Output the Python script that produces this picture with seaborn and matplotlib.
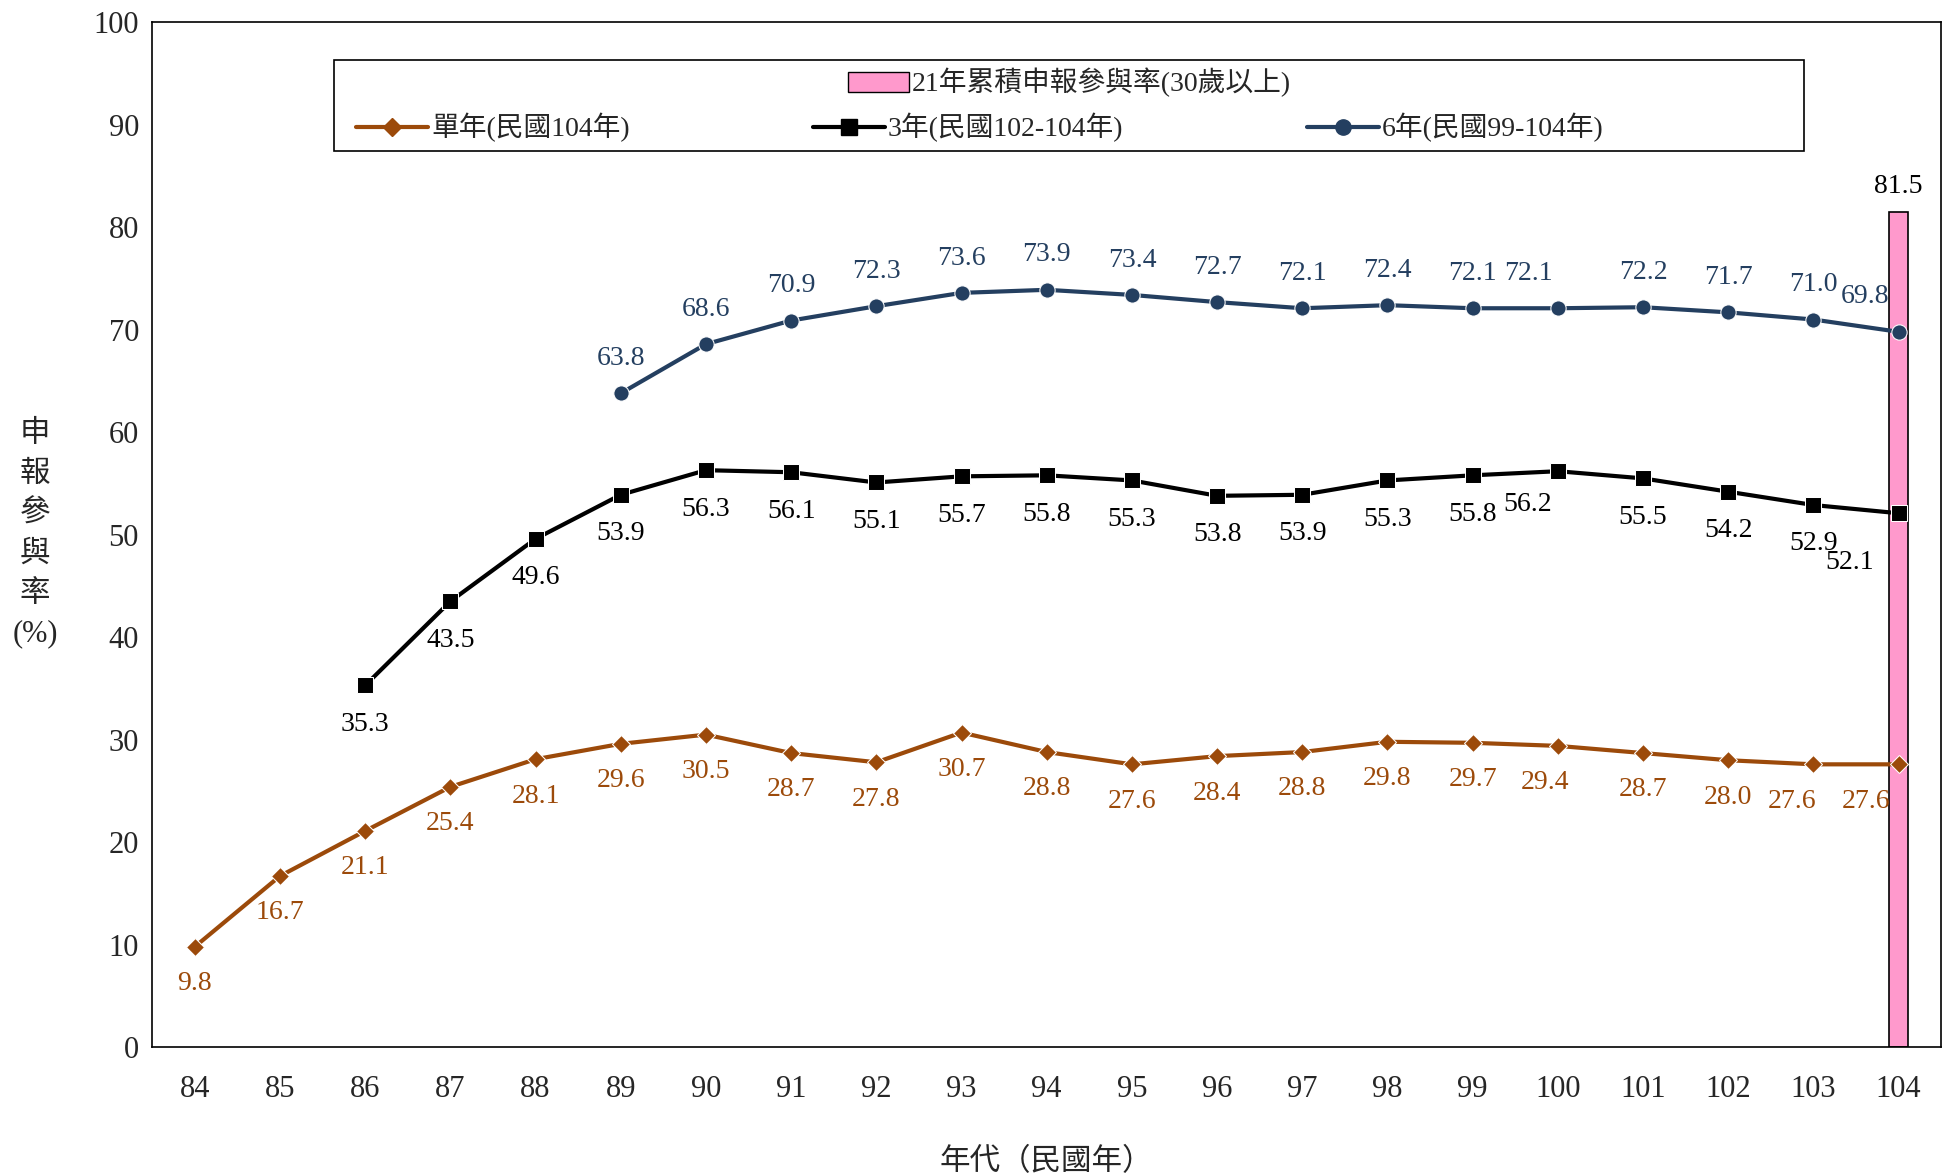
import matplotlib
matplotlib.use("Agg")
import matplotlib.pyplot as plt
import seaborn as sns
import pandas as pd
import numpy as np
from matplotlib.lines import Line2D
from matplotlib.patches import Patch, Rectangle

years = [str(y) for y in range(84, 105)]
single = [9.8,16.7,21.1,25.4,28.1,29.6,30.5,28.7,27.8,30.7,28.8,27.6,28.4,28.8,29.8,29.7,29.4,28.7,28.0,27.6,27.6]
three = [None,None,35.3,43.5,49.6,53.9,56.3,56.1,55.1,55.7,55.8,55.3,53.8,53.9,55.3,55.8,56.2,55.5,54.2,52.9,52.1]
six = [None,None,None,None,None,63.8,68.6,70.9,72.3,73.6,73.9,73.4,72.7,72.1,72.4,72.1,72.1,72.2,71.7,71.0,69.8]
cum_year = "104"
cum_value = 81.5

sns.set_theme(style="white")
plt.rcParams['font.family'] = ['Liberation Serif', 'Noto Sans CJK TC']

BROWN = "#9C4A0A"
BLACK = "#000000"
NAVY = "#243F60"
PINK = "#FF99CC"

fig = plt.figure(figsize=(19.51, 11.74), dpi=100)
ax = fig.add_axes([0.078, 0.108, 0.917, 0.873])
xs = np.arange(len(years))
cum_idx = years.index(cum_year)
ax.bar([cum_idx], [cum_value], width=0.22, color=PINK, edgecolor="black", linewidth=1.2, zorder=1)

df = pd.DataFrame({"x": xs, "single": single, "three": three, "six": six})
sns.lineplot(data=df, x="x", y="single", ax=ax, color=BROWN, marker="D", markersize=9, linewidth=3, zorder=3)
sns.lineplot(data=df.dropna(subset=["three"]), x="x", y="three", ax=ax, color=BLACK, marker="s", markersize=11, linewidth=3, zorder=3)
sns.lineplot(data=df.dropna(subset=["six"]), x="x", y="six", ax=ax, color=NAVY, marker="o", markersize=11, linewidth=3, zorder=3)

fs = 20
n = len(years)
for i, v in enumerate(single):
    dx = {n-1: -0.38, n-2: -0.25, 16: -0.15}.get(i, 0)
    ax.text(i+dx, v-3.6, f"{v:.1f}", ha="center", va="center", color=BROWN, fontsize=fs)
for i, v in enumerate(three):
    if v is None: continue
    dx, dy = 0, -3.8
    if i == n-1: dx, dy = -0.57, -4.8
    if i == 16: dx, dy = -0.35, -3.2
    ax.text(i+dx, v+dy, f"{v:.1f}", ha="center", va="center", color=BLACK, fontsize=fs)
for i, v in enumerate(six):
    if v is None: continue
    dx = {n-1: -0.4, 16: -0.35}.get(i, 0)
    ax.text(i+dx, v+3.4, f"{v:.1f}", ha="center", va="center", color=NAVY, fontsize=fs)
ax.text(cum_idx, cum_value+2.5, f"{cum_value:.1f}", ha="center", va="center", color=BLACK, fontsize=fs)

ax.set_xlim(-0.5, n-0.5)
ax.set_ylim(0, 100)
ax.set_yticks(range(0, 101, 10))
ax.set_xticks(np.arange(0.5, n-1, 1))
ax.set_xticklabels([])
ax.set_xticks(xs, minor=True)
ax.set_xticklabels(years, minor=True)
ax.tick_params(axis="x", which="major", direction="in", length=8, width=1, color="black")
ax.tick_params(axis="x", which="minor", length=0, labelsize=22, pad=20)
ax.tick_params(axis="y", direction="out", length=6, width=1, color="black", labelsize=22)
for s in ax.spines.values():
    s.set_color("black"); s.set_linewidth(1.2)
ax.set_xlabel("年代（民國年）", fontsize=22, labelpad=32)
ax.set_ylabel("")
fig.text(0.018, 0.545, "申\n報\n參\n與\n率\n(%)", ha="center", va="center", fontsize=22, linespacing=1.5)

ax.add_patch(Rectangle((0.1015, 0.874), 0.822, 0.0896, transform=ax.transAxes, fill=False, edgecolor="black", linewidth=1.2, zorder=5))
leg1 = ax.legend([Patch(facecolor=PINK, edgecolor="black")], ["21年累積申報參與率(30歲以上)"],
                 loc="center", bbox_to_anchor=(0.5125, 0.941), frameon=False, fontsize=20,
                 handlelength=2.2, handletextpad=0.1)
ax.add_artist(leg1)
h = [Line2D([], [], color=BROWN, marker="D", markersize=9, lw=3),
     Line2D([], [], color=BLACK, marker="s", markersize=11, lw=3),
     Line2D([], [], color=NAVY, marker="o", markersize=11, lw=3)]
ax.legend(h, ["單年(民國104年)", "3年(民國102-104年)", "6年(民國99-104年)"], loc="center left",
          bbox_to_anchor=(0.1, 0.897), ncol=3, frameon=False, fontsize=20,
          handlelength=2.6, handletextpad=0.1, columnspacing=6.6)

fig.savefig("out.png", dpi=100)
